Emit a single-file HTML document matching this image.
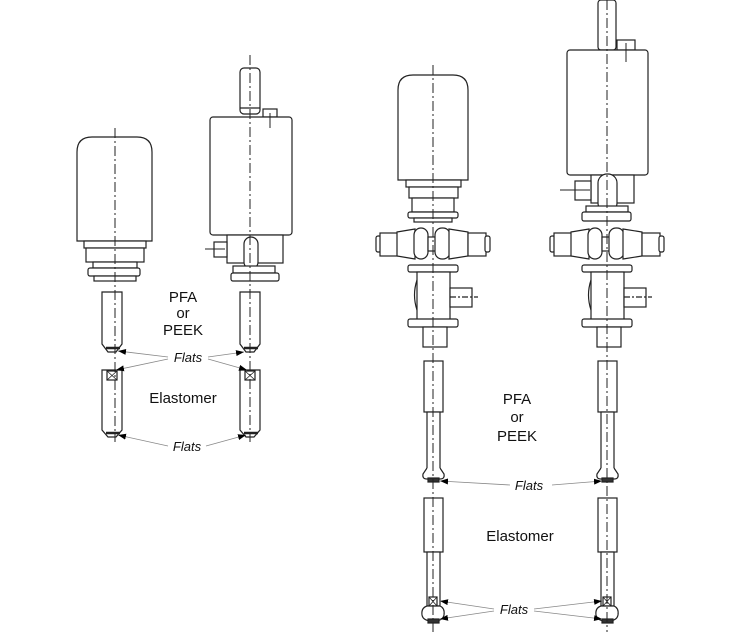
<!DOCTYPE html>
<html><head><meta charset="utf-8"><style>
html,body{margin:0;padding:0;background:#fff}
svg{display:block}
text{font-family:"Liberation Sans",Arial,sans-serif;fill:#111}
.i{font-style:italic;font-size:13px}
.t{font-size:15px}
</style></head><body>
<svg width="738" height="632" viewBox="0 0 738 632" xmlns="http://www.w3.org/2000/svg">
<defs>
<marker id="ah" markerWidth="8" markerHeight="6" refX="8" refY="3" orient="auto" markerUnits="userSpaceOnUse">
<path d="M0,0 L8,3 L0,6 z" fill="#000"/></marker>
<g id="cross" fill="#fff" stroke="#222" stroke-width="1.2">
<rect x="-57" y="236" width="5" height="16" rx="2"/>
<rect x="-53" y="233" width="18" height="23"/>
<path d="M-36,232 L-18,229 L-18,259 L-36,256 z"/>
<rect x="-19" y="228" width="14" height="31" rx="7"/>
<rect x="-5" y="237" width="9" height="14"/>
<rect x="2" y="228" width="15" height="31" rx="7"/>
<path d="M16,229 L35,232 L35,256 L16,259 z"/>
<rect x="35" y="233" width="18" height="23"/>
<rect x="52" y="236" width="5" height="16" rx="2"/>
</g>
<g id="lowbody" fill="#fff" stroke="#222" stroke-width="1.2">
<rect x="-25" y="265" width="50" height="7" rx="2"/>
<rect x="-16" y="272" width="33" height="48"/>
<path d="M-16,280 Q-21,295 -16,310" fill="none"/>
<rect x="17" y="288" width="22" height="19"/>
<line x1="17" y1="297" x2="45" y2="297" stroke-dasharray="6,2,2,2"/>
<rect x="-25" y="319" width="50" height="8" rx="2"/>
<rect x="-10" y="327" width="24" height="20"/>
</g>
<g id="rodR" fill="#fff" stroke="#222" stroke-width="1.2">
<rect x="-9" y="361" width="19" height="51"/>
<rect x="-6" y="412" width="13" height="58"/>
<path d="M-6,468 L-10,474 Q-11,479 -6,479 L7,479 Q12,479 11,474 L7,468"/>
<rect x="-5" y="478" width="11" height="4" fill="#333"/>
<rect x="-9" y="498" width="19" height="54"/>
<rect x="-6" y="552" width="13" height="54"/>
<rect x="-4" y="597" width="8" height="9" fill="#fff"/>
<path d="M-4,597 L4,606 M4,597 L-4,606" stroke-width=".8"/>
<path d="M-6,606 Q-12,608 -11,615 Q-10,621 0,621 Q10,621 11,615 Q12,608 7,606 z"/>
<rect x="-5" y="619" width="11" height="4" fill="#333"/>
</g>
<g id="rodL" fill="#fff" stroke="#222" stroke-width="1.2">
<path d="M-13,292 L7,292 L7,344 L1,352 L-7,352 L-13,344 z"/>
<path d="M-9,348 L5,348" stroke-width="2.5"/>
<path d="M-13,370 L7,370 L7,430 L1,437 L-7,437 L-13,430 z"/>
<rect x="-8" y="371" width="10" height="9"/>
<path d="M-8,371 L2,380 M2,371 L-8,380" stroke-width=".8"/>
<path d="M-9,433 L5,433" stroke-width="2.5"/>
</g>
</defs>

<g fill="#fff" stroke="#222" stroke-width="1.2">
<path d="M77,241 L77,152 Q77,137 92,137 L137,137 Q152,137 152,152 L152,241 z"/>
<rect x="84" y="241" width="62" height="7"/>
<rect x="86" y="248" width="58" height="14"/>
<rect x="93" y="262" width="44" height="6"/>
<rect x="88" y="268" width="52" height="8" rx="2"/>
<rect x="94" y="276" width="42" height="5"/>
<rect x="240" y="68" width="20" height="46" rx="4"/>
<line x1="240" y1="108" x2="260" y2="108"/>
<rect x="263" y="109" width="14" height="8"/>
<rect x="210" y="117" width="82" height="118" rx="3"/>
<rect x="227" y="235" width="56" height="28"/>
<rect x="214" y="242" width="13" height="15"/>
<rect x="244" y="237" width="14" height="32" rx="7"/>
<rect x="233" y="266" width="42" height="7"/>
<rect x="231" y="273" width="48" height="8" rx="2"/>
<path d="M398,180 L398,90 Q398,75 413,75 L453,75 Q468,75 468,90 L468,180 z"/>
<rect x="406" y="180" width="55" height="7"/>
<rect x="409" y="187" width="49" height="11"/>
<rect x="412" y="198" width="42" height="14"/>
<rect x="408" y="212" width="50" height="6" rx="2"/>
<rect x="414" y="218" width="38" height="4"/>
<rect x="598" y="0" width="18" height="50" rx="3"/>
<rect x="617" y="40" width="18" height="10"/>
<rect x="567" y="50" width="81" height="125" rx="3"/>
<rect x="591" y="175" width="43" height="28"/>
<rect x="575" y="181" width="16" height="19"/>
<rect x="598" y="174" width="19" height="38" rx="9"/>
<rect x="586" y="206" width="42" height="6"/>
<rect x="582" y="212" width="49" height="9" rx="2"/>
</g>
<line x1="205" y1="249" x2="225" y2="249" stroke="#222"/>
<line x1="560" y1="190" x2="590" y2="190" stroke="#222"/>
<line x1="626" y1="43" x2="626" y2="62" stroke="#222"/>
<line x1="270" y1="113" x2="270" y2="128" stroke="#222"/>

<use href="#cross" x="433"/>
<use href="#cross" x="607"/>
<use href="#lowbody" x="433"/>
<use href="#lowbody" x="607"/>
<use href="#rodR" x="433"/>
<use href="#rodR" x="607"/>
<use href="#rodL" x="115"/>
<use href="#rodL" x="253"/>

<g stroke="#222" stroke-width="1" stroke-dasharray="10,3,2,3">
<line x1="115" y1="128" x2="115" y2="442"/>
<line x1="250" y1="55" x2="250" y2="442"/>
<line x1="433" y1="65" x2="433" y2="632"/>
<line x1="607" y1="0" x2="607" y2="632"/>
</g>

<g stroke="#888" stroke-width="0.8" fill="none" marker-end="url(#ah)">
<line x1="168" y1="357" x2="118" y2="351"/>
<line x1="168" y1="359" x2="116" y2="370"/>
<line x1="208" y1="357" x2="244" y2="352"/>
<line x1="208" y1="359" x2="247" y2="370"/>
<line x1="168" y1="446" x2="118" y2="435"/>
<line x1="206" y1="446" x2="246" y2="435"/>
<line x1="510" y1="485" x2="440" y2="481"/>
<line x1="552" y1="485" x2="602" y2="481"/>
<line x1="494" y1="609" x2="440" y2="601"/>
<line x1="494" y1="611" x2="440" y2="619"/>
<line x1="534" y1="609" x2="602" y2="601"/>
<line x1="534" y1="611" x2="602" y2="619"/>
</g>

<text class="t" x="183" y="302" text-anchor="middle">PFA</text>
<text class="t" x="183" y="318" text-anchor="middle">or</text>
<text class="t" x="183" y="335" text-anchor="middle">PEEK</text>
<text class="i" x="188" y="362" text-anchor="middle">Flats</text>
<text class="t" x="183" y="403" text-anchor="middle">Elastomer</text>
<text class="i" x="187" y="451" text-anchor="middle">Flats</text>
<text class="t" x="517" y="404" text-anchor="middle">PFA</text>
<text class="t" x="517" y="422" text-anchor="middle">or</text>
<text class="t" x="517" y="441" text-anchor="middle">PEEK</text>
<text class="i" x="529" y="490" text-anchor="middle">Flats</text>
<text class="t" x="520" y="541" text-anchor="middle">Elastomer</text>
<text class="i" x="514" y="614" text-anchor="middle">Flats</text>
</svg>
</body></html>
